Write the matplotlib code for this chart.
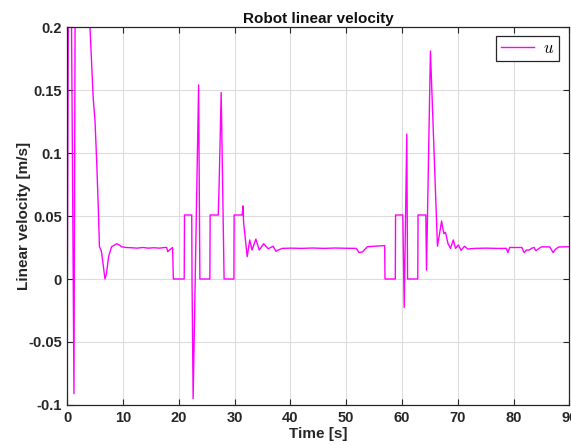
import matplotlib
matplotlib.use("Agg")
import matplotlib.pyplot as plt
from matplotlib.ticker import FuncFormatter

plt.rcParams['font.family'] = ['Liberation Sans', 'DejaVu Sans']
plt.rcParams['axes.unicode_minus'] = False
plt.rcParams['mathtext.fontset'] = 'cm'

# ---- data ----
time_s = [0.0, 0.16, 0.75, 1.18, 1.38, 4.05, 4.64, 4.95, 5.25, 5.54, 5.75,
          5.97, 6.1, 6.4, 6.74, 7.0, 7.4, 7.93, 8.5, 8.83, 9.3, 9.7,
          10.5, 11.5, 12.5, 13.5, 14.5, 15.5, 16.5, 17.5, 17.8, 18.0, 18.3, 18.87,
          19.0, 20.95, 21.0, 22.3, 22.35, 22.55, 23.53, 23.76, 25.55, 25.6,
          27.05, 27.2, 27.58, 28.1, 29.86, 29.9, 31.35, 31.5, 31.6, 32.24,
          32.7, 33.1, 33.8, 34.4, 35.2, 36.0, 36.9, 37.4, 37.8, 38.5,
          40.0, 42.0, 44.0, 46.0, 48.0, 50.0, 51.8, 52.3, 52.9, 53.8,
          55.0, 56.9, 56.95, 58.8, 58.85, 60.15, 60.4, 60.86, 61.0, 62.83,
          62.88, 64.27, 64.4, 65.1, 66.36, 66.7, 67.1, 67.5, 67.8, 68.26,
          68.7, 69.2, 69.6, 70.1, 70.6, 71.2, 71.8, 73.0, 75.0, 77.0, 78.7,
          79.0, 79.3, 81.5, 81.9, 82.3, 82.8, 83.3, 83.7, 84.0, 85.0, 86.5,
          87.1, 87.5, 88.1, 89.0, 90.0]
velocity = [0.0, 0.2, 0.2, -0.091, 0.2, 0.2, 0.143, 0.126, 0.094, 0.057, 0.0256,
            0.0235, 0.022, 0.012, 0.0, 0.004, 0.018, 0.0256, 0.027, 0.028, 0.027, 0.0256,
            0.025, 0.0248, 0.0245, 0.025, 0.0245, 0.0248, 0.0245, 0.025, 0.025, 0.0217, 0.023, 0.025,
            0.0, 0.0, 0.0508, 0.0508, 0.0, -0.095, 0.154, 0.0, 0.0, 0.0508,
            0.0508, 0.073, 0.148, 0.0, 0.0, 0.0508, 0.0508, 0.058, 0.045, 0.0177,
            0.031, 0.023, 0.0317, 0.023, 0.028, 0.024, 0.026, 0.022, 0.023, 0.0243,
            0.0245, 0.0243, 0.0246, 0.0243, 0.0246, 0.0244, 0.0243, 0.021, 0.0215, 0.0256,
            0.026, 0.0265, 0.0, 0.0, 0.0508, 0.0508, -0.0225, 0.115, 0.0, 0.0,
            0.0508, 0.0508, 0.0071, 0.181, 0.026, 0.035, 0.046, 0.036, 0.037, 0.028,
            0.0243, 0.031, 0.0243, 0.027, 0.0227, 0.026, 0.0238, 0.0243, 0.0245, 0.0243, 0.0243,
            0.021, 0.025, 0.025, 0.021, 0.023, 0.023, 0.0245, 0.025, 0.0225, 0.0255, 0.0255,
            0.021, 0.0235, 0.0254, 0.0255, 0.0256]

x_ticks = [0, 10, 20, 30, 40, 50, 60, 70, 80, 90]
y_ticks = [-0.1, -0.05, 0, 0.05, 0.1, 0.15, 0.2]

fig = plt.figure(figsize=(5.71, 4.45), dpi=100)
ax = fig.add_axes([0.118, 0.0899, 0.879, 0.8494])

ax.plot(time_s, velocity, color='#FF00FF', linewidth=1.0, label=r'$u$')

ax.set_xlim(0, 90)
ax.set_ylim(-0.1, 0.2)
ax.set_xticks(x_ticks)
ax.set_yticks(y_ticks)
ax.yaxis.set_major_formatter(FuncFormatter(lambda v, p: ('%g' % v)))
ax.grid(True, color='#dcdcdc', linewidth=0.8)
ax.set_axisbelow(True)

for s in ax.spines.values():
    s.set_color('#262626')
    s.set_linewidth(0.9)
ax.tick_params(direction='in', top=True, right=True, length=4, width=0.8,
               colors='#262626', labelsize=10.5, pad=4)
for lab in ax.get_xticklabels() + ax.get_yticklabels():
    lab.set_fontweight('bold')

ax.set_title('Robot linear velocity', fontsize=11, fontweight='bold', color='#111111', pad=3)
ax.set_xlabel('Time [s]', fontsize=11, fontweight='bold', color='#262626', labelpad=2)
ax.set_ylabel('Linear velocity [m/s]', fontsize=11, fontweight='bold', color='#262626', labelpad=-2)

leg = ax.legend(loc='upper right', fontsize=12, fancybox=False, framealpha=1,
                edgecolor='#262626', handlelength=2.0, handletextpad=0.5,
                borderpad=0.3, borderaxespad=0,
                bbox_to_anchor=(0.979, 0.976))
leg.get_frame().set_linewidth(0.9)

fig.savefig('out.png', dpi=100)
